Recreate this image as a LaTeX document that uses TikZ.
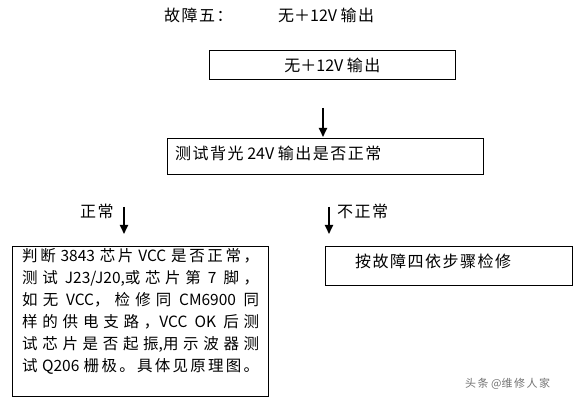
\documentclass[tikz,border=0pt]{standalone}
\usepackage{fontspec}
\newfontfamily\cjk{Noto Sans CJK SC}
\newcount\mycc
\mycc="4E00
\loop
  \XeTeXcharclass\mycc=7
  \advance\mycc by 1
\ifnum\mycc<"A000 \repeat
\XeTeXcharclass"FF0C=8
\XeTeXcharclass"3002=8
\XeTeXcharclass"FF1A=8
\XeTeXinterchartokenstate=1
\XeTeXinterchartoks 7 7 = {\hskip 1.5pt plus 1.5pt\relax}
\XeTeXinterchartoks 7 8 = {\hskip 1.5pt plus 1.5pt\relax}
\XeTeXinterchartoks 8 7 = {\hskip 1.5pt plus 1.5pt\relax}
\usetikzlibrary{arrows.meta}
\newcommand{\fitline}[1]{\makebox[237pt][s]{#1}}
\begin{document}
\begin{tikzpicture}[x=1pt,y=-1pt,
  box/.style={draw,line width=0.8pt},
  txt/.style={font=\cjk\fontsize{16}{18}\selectfont,inner sep=0pt,anchor=west},
  btxt/.style={font=\cjk\fontsize{15.5}{18}\selectfont,inner sep=0pt,anchor=west},
  arr/.style={line width=1.8pt,-{Triangle[width=8pt,length=9pt]}}]
\useasboundingbox (0,0) rectangle (582,406);
\node[txt] (t1) at (164,15) {故障五：};
\node[txt] (t2) at (278,15) {无＋12V 输出};
\node[box,minimum width=246pt,minimum height=29pt,anchor=north west,inner sep=0pt] (b1) at (209,50) {};
\node[txt,anchor=center] (b1t) at (b1.center) {无＋12V 输出};
\coordinate (a1s) at (323,108);
\coordinate (a1e) at (323,137);
\draw[arr] (a1s) -- (a1e);
\node[box,minimum width=316pt,minimum height=36pt,anchor=north west,inner sep=0pt] (b2) at (167,138) {};
\node[txt] (b2t) at (175,153) {测试背光 24V 输出是否正常};
\node[txt] (l1) at (80,211) {正常};
\coordinate (a2s) at (124,207);
\coordinate (a2e) at (124,234);
\draw[arr] (a2s) -- (a2e);
\node[txt] (l2) at (337,211) {不正常};
\coordinate (a3s) at (329,207);
\coordinate (a3e) at (329,234);
\draw[arr] (a3s) -- (a3e);
\node[box,minimum width=256pt,minimum height=150pt,anchor=north west,inner sep=0pt] (b3) at (12,246) {};
\node[btxt] (r1) at (22,256) {\fitline{判断 3843 芯片 VCC 是否正常，}};
\node[btxt] (r2) at (22,278) {\fitline{测试 J23/J20,或芯片第 7 脚，}};
\node[btxt] (r3) at (22,300) {\fitline{如无 VCC，检修同 CM6900 同}};
\node[btxt] (r4) at (22,322) {\fitline{样的供电支路，VCC OK 后测}};
\node[btxt] (r5) at (22,344) {\fitline{试芯片是否起振,用示波器测}};
\node[btxt] (r6) at (22,366) {\fitline{试 Q206 栅极。具体见原理图。}};
\node[box,minimum width=247pt,minimum height=39pt,anchor=north west,inner sep=0pt] (b4) at (325,246) {};
\node[txt] (b4t) at (355,261) {按故障四依步骤检修};
\node[txt,text=black!55,font=\cjk\fontsize{11}{13}\selectfont] (wm) at (465,384) {头条 @维修人家};
\end{tikzpicture}
\end{document}
